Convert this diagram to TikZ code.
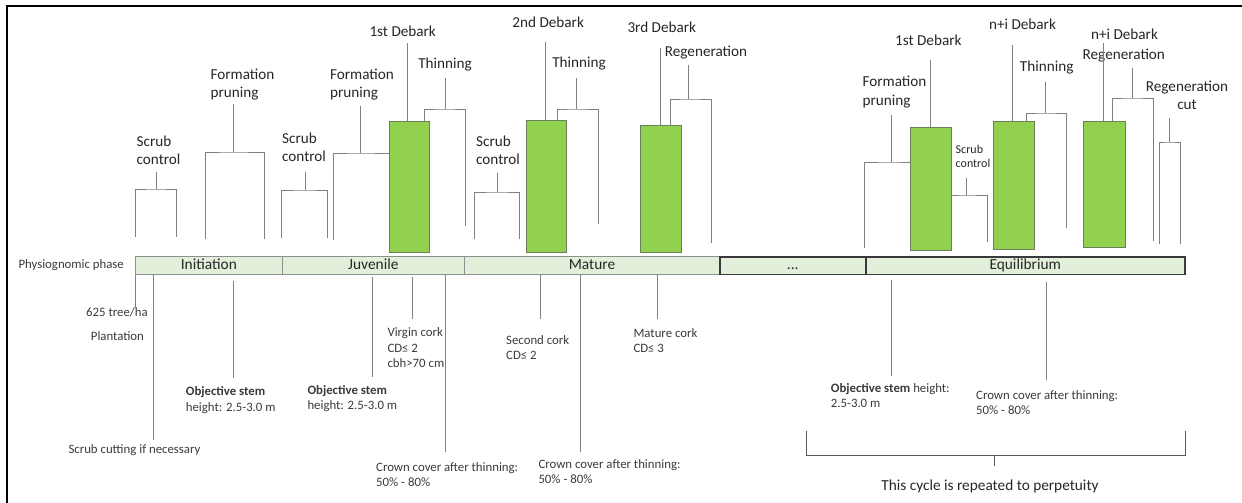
\documentclass[tikz,border=0pt]{standalone}
\usepackage{fontspec}
\setmainfont{Carlito}
\definecolor{lncol}{HTML}{808080}
\definecolor{lndark}{HTML}{5A5A5A}
\definecolor{txt}{HTML}{262626}
\definecolor{txtb}{HTML}{3A3A3A}
\definecolor{gfill}{HTML}{92D050}
\definecolor{gdraw}{HTML}{6B7F58}
\definecolor{pfill}{HTML}{E2EFDA}
\definecolor{pdraw}{HTML}{8F8F8F}
\definecolor{pdark}{HTML}{3A3A3A}
\tikzset{
  ln/.style={draw=lncol, line width=1pt},
  lnd/.style={draw=lndark, line width=1pt},
  lbl/.style={font=\fontsize{15.2}{18.3}\selectfont, text=txt, inner xsep=0pt, anchor=south},
  slbl/.style={font=\fontsize{12}{14.4}\selectfont, text=txt, inner xsep=0pt, anchor=south},
  note/.style={font=\fontsize{12.8}{15.3}\selectfont, text=txtb, inner sep=0pt, anchor=base west},
  gbox/.style={fill=gfill, draw=gdraw, line width=1pt, anchor=north west, inner sep=0pt},
  phase/.style={fill=pfill, draw=pdraw, line width=1pt, anchor=north west, inner sep=0pt,
    minimum height=17.6pt, text height=10.6pt, text depth=3pt,
    font=\fontsize{15.4}{18}\selectfont, text=txt},
  phasedark/.style={phase, draw=pdark, line width=1.5pt},
}
\newcommand\brk[8]{%
  \coordinate (#1j) at (#2,#3);
  \coordinate (#1l) at (#4,#5);
  \coordinate (#1r) at (#6,#7);
  \draw[ln] (#1l) |- (#1j) -| (#1r);
  \draw[ln] (#8.south -| #1j) -- (#1j);
}
\begin{document}
\begin{tikzpicture}[x=1pt,y=-1pt]
\useasboundingbox (0,0) rectangle (1242,503);
% frame
\draw[line width=2.6pt, line join=miter] (7,503) -- (7,6) -- (1242,6);

% phase bar
\node[note] (phl) at (18.3,268.3) {Physiognomic phase};
\node[phase, minimum width=146.7pt] (ini) at (135,256) {Initiation};
\node[phase, minimum width=182.3pt] (juv) at (281.7,256) {Juvenile};
\node[phase, minimum width=255pt] (mat) at (464,256) {Mature};
\node[phasedark, minimum width=146pt] (dots) at (719,256) {...};
\node[phasedark, minimum width=319pt] (equ) at (865,256) {Equilibrium};

% green boxes
\node[gbox, minimum width=40pt, minimum height=131.3pt] (bx1) at (389,121) {};
\node[gbox, minimum width=40.3pt, minimum height=132pt] (bx2) at (525.7,120) {};
\node[gbox, minimum width=41pt, minimum height=127.3pt] (bx3) at (640.3,125) {};
\node[gbox, minimum width=41pt, minimum height=123pt] (bx4) at (910,127) {};
\node[gbox, minimum width=41pt, minimum height=128pt] (bx5) at (993.3,121) {};
\node[gbox, minimum width=41.7pt, minimum height=126pt] (bx6) at (1083.3,121) {};

% top labels
\node[lbl, align=left, inner ysep=7pt] (scA) at (158.5,172) {Scrub\\control};
\node[lbl, align=left, inner ysep=3.5pt] (fpA) at (242.5,104) {Formation\\pruning};
\node[lbl, align=left, inner ysep=10pt] (scB) at (304,171.7) {Scrub\\control};
\node[lbl, align=left, inner ysep=5.5pt] (fpB) at (362,106) {Formation\\pruning};
\node[lbl, inner ysep=6.8pt] (d1A) at (402.7,43.3) {1st Debark};
\node[lbl, inner ysep=6.5pt] (thA) at (445,78) {Thinning};
\node[lbl, align=left, inner ysep=8pt] (scC) at (498,173) {Scrub\\control};
\node[lbl, inner ysep=13.7pt] (d2) at (548.2,41.7) {2nd Debark};
\node[lbl, inner ysep=7.2pt] (thB) at (579,78) {Thinning};
\node[lbl, inner ysep=15pt] (d3) at (661.8,48) {3rd Debark};
\node[lbl, inner ysep=5.2pt] (rgA) at (706,65) {Regeneration};
\node[lbl, align=left, inner ysep=6.9pt] (fpC) at (894.5,115) {Formation\\pruning};
\node[slbl, align=left, inner ysep=10.3pt] (scD) at (973,178) {Scrub\\control};
\node[lbl, inner ysep=14pt] (d1B) at (928.3,60) {1st Debark};
\node[lbl, inner ysep=15pt] (nd1) at (1022.5,45) {n+i Debark};
\node[lbl, inner ysep=7.2pt] (thC) at (1046.7,82) {Thinning};
\node[lbl, inner ysep=3pt] (nd2) at (1124.5,43) {n+i Debark};
\node[lbl, inner ysep=5.2pt] (rgB) at (1123.8,68) {Regeneration};
\node[lbl, align=center, inner ysep=8pt] (rcA) at (1187,118) {Regeneration\\cut};

% brackets
\brk{scA}{156.7}{189}{135}{237}{176}{237}{scA}
\brk{fpA}{233}{152}{205}{239}{264}{239}{fpA}
\brk{scB}{305}{190}{281.7}{238}{327.7}{238}{scB}
\brk{fpB}{360.7}{153}{333}{240}{388.5}{153}{fpB}
\brk{thA}{445}{109}{424}{121}{465.7}{226}{thA}
\brk{scC}{497.7}{192}{474}{239}{519.3}{239}{scC}
\brk{thB}{576.7}{109}{557.7}{120}{598.3}{224}{thB}
\brk{rgA}{688.3}{99}{670.7}{125}{711.7}{243}{rgA}
\brk{fpC}{891.7}{162}{864}{248}{910}{162}{fpC}
\brk{scD}{966}{195}{951}{195}{987.7}{242}{scD}
\brk{thC}{1045}{113}{1026.7}{121}{1066.7}{228}{thC}
\brk{rgB}{1132.3}{98}{1112.7}{121}{1153.3}{241}{rgB}
\brk{rcA}{1169.3}{142}{1159.3}{244}{1180.7}{244}{rcA}

% debark stems
\coordinate (s1) at (407.7,0);
\coordinate (s2) at (545,0);
\coordinate (s3) at (660,0);
\coordinate (s4) at (930.7,0);
\coordinate (s5) at (1012.7,0);
\coordinate (s6) at (1103.3,0);
\draw[ln] (d1A.south -| s1) -- (bx1.north -| s1);
\draw[ln] (d2.south -| s2) -- (bx2.north -| s2);
\draw[ln] (d3.south -| s3) -- (bx3.north -| s3);
\draw[ln] (d1B.south -| s4) -- (bx4.north -| s4);
\draw[ln] (nd1.south -| s5) -- (bx5.north -| s5);
\draw[ln] (nd2.south -| s6) -- (bx6.north -| s6);

% bottom notes
\node[note] (n625) at (86,316) {625 tree/ha};
\node[note] (npl) at (90.7,340) {Plantation};
\node[note] (nsc) at (68.3,453) {Scrub cutting if necessary};
\node[note] (nob1) at (185.7,395.7) {\begin{tabular}[t]{@{}l@{}}\textbf{Objective stem}\\height: 2.5-3.0 m\end{tabular}};
\node[note] (nob2) at (307.3,394) {\begin{tabular}[t]{@{}l@{}}\textbf{Objective stem}\\height: 2.5-3.0 m\end{tabular}};
\node[note] (nvc) at (387.3,336.7) {\begin{tabular}[t]{@{}l@{}}Virgin cork\\CD≤ 2\\cbh>70 cm\end{tabular}};
\node[note] (ncc1) at (376,471) {\begin{tabular}[t]{@{}l@{}}Crown cover after thinning:\\50\% - 80\%\end{tabular}};
\node[note] (nsec) at (506,344.3) {\begin{tabular}[t]{@{}l@{}}Second cork\\CD≤ 2\end{tabular}};
\node[note] (ncc2) at (538.3,468.3) {\begin{tabular}[t]{@{}l@{}}Crown cover after thinning:\\50\% - 80\%\end{tabular}};
\node[note] (nmc) at (633.3,337.3) {\begin{tabular}[t]{@{}l@{}}Mature cork\\CD≤ 3\end{tabular}};
\node[note] (nob3) at (830.7,392.3) {\begin{tabular}[t]{@{}l@{}}\textbf{Objective stem} height:\\2.5-3.0 m\end{tabular}};
\node[note] (ncc3) at (976,399.3) {\begin{tabular}[t]{@{}l@{}}Crown cover after thinning:\\50\% - 80\%\end{tabular}};

% bottom lines
\coordinate (b1) at (135,308);
\coordinate (b2) at (153.3,440);
\coordinate (b3) at (233.3,378);
\coordinate (b4) at (372.7,376.7);
\coordinate (b5) at (412.7,319);
\coordinate (b6) at (445,451.7);
\coordinate (b7) at (540.7,319.3);
\coordinate (b8) at (580,451.7);
\coordinate (b9) at (657.7,319);
\coordinate (b10) at (891.7,376);
\coordinate (b11) at (1046.7,380);
\draw[ln] (ini.south west) -- (b1);
\draw[ln] (ini.south -| b2) -- (b2);
\draw[ln, shorten <=6.5pt] (ini.south -| b3) -- (b3);
\draw[ln, shorten <=2pt] (juv.south -| b4) -- (b4);
\draw[ln, shorten <=2pt] (juv.south -| b5) -- (b5);
\draw[ln] (juv.south -| b6) -- (b6);
\draw[ln] (mat.south -| b7) -- (b7);
\draw[ln] (mat.south -| b8) -- (b8);
\draw[ln] (mat.south -| b9) -- (b9);
\draw[ln, shorten <=4.5pt] (equ.south -| b10) -- (b10);
\draw[ln, shorten <=6.5pt] (equ.south -| b11) -- (b11);

% cycle bracket
\node[font=\fontsize{15.3}{18}\selectfont, text=txt, inner sep=0pt, anchor=base] (cyc) at (990,490.7) {This cycle is repeated to perpetuity};
\coordinate (cyl) at (806,431);
\coordinate (cyr) at (1185,431);
\coordinate (cyj) at (994.3,455.7);
\draw[lnd] (cyl) |- (cyj) -| (cyr);
\draw[lnd, shorten >=13.7pt] (cyj) -- (cyc.north -| cyj);
\end{tikzpicture}
\end{document}
